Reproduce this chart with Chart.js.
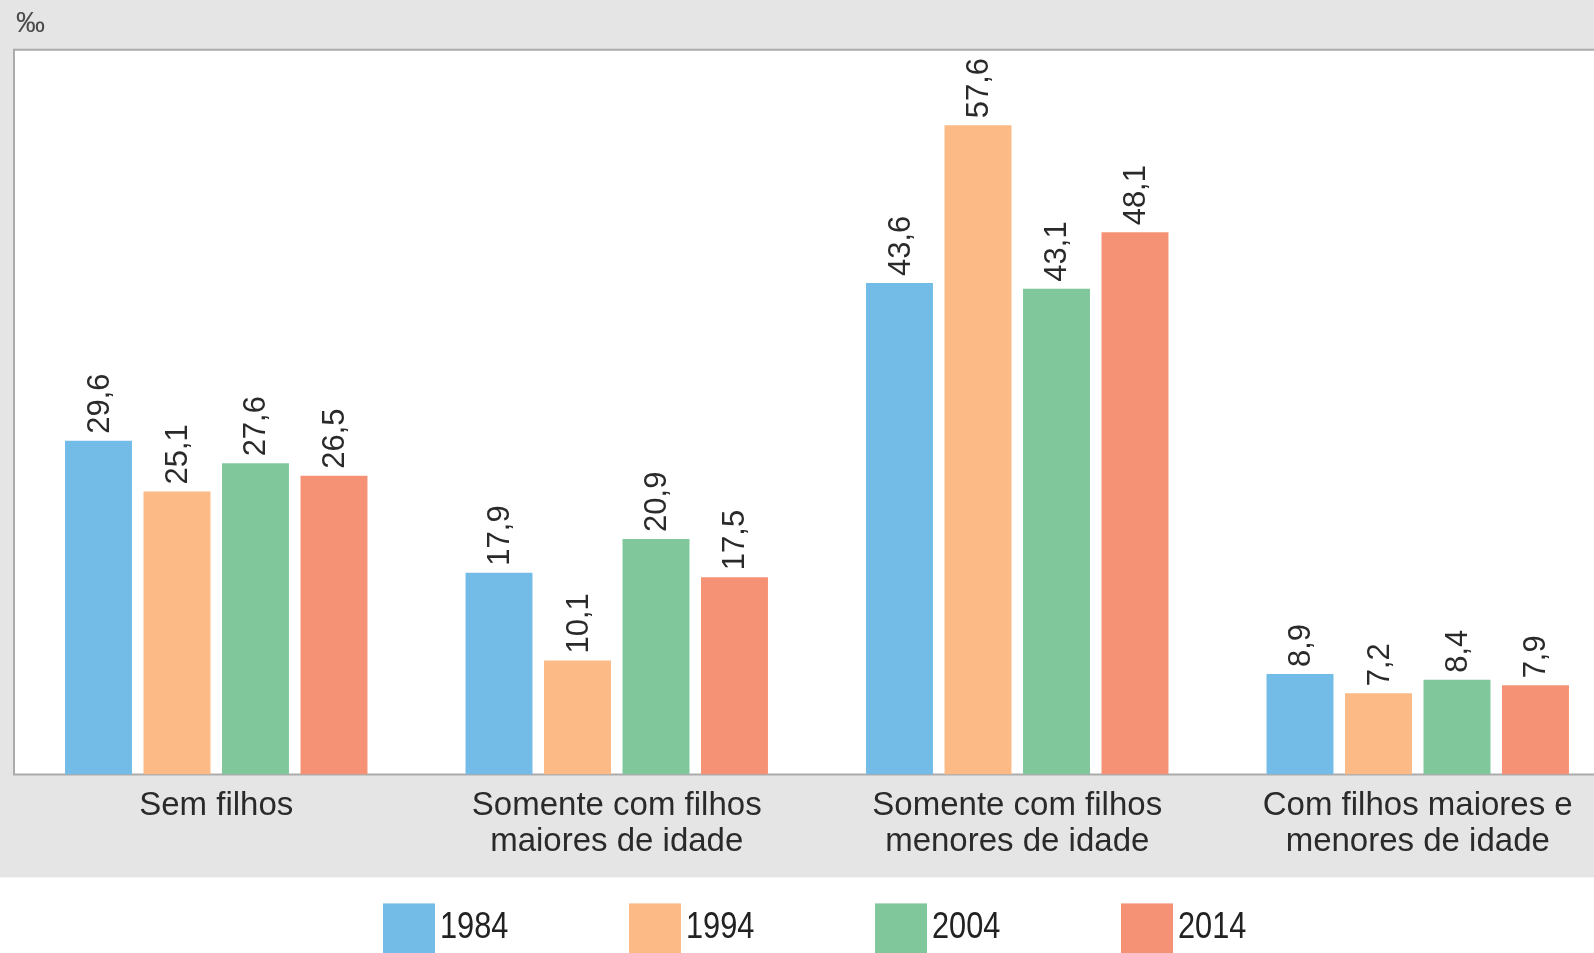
<!DOCTYPE html>
<html><head><meta charset="utf-8">
<script src="https://cdn.jsdelivr.net/npm/chart.js@4/dist/chart.umd.min.js"></script>
<style>html,body{margin:0;padding:0;overflow:hidden;background:#fff;width:1594px;height:953px}canvas{display:block}</style>
</head><body><canvas id="c" width="1625" height="953" style="width:1625px;height:953px"></canvas>
<script>
const categories = [["Sem filhos"],["Somente com filhos","maiores de idade"],["Somente com filhos","menores de idade"],["Com filhos maiores e","menores de idade"]];
const years = ["1984","1994","2004","2014"];
const values1984 = [29.6, 17.9, 43.6, 8.9];
const values1994 = [25.1, 10.1, 57.6, 7.2];
const values2004 = [27.6, 20.9, 43.1, 8.4];
const values2014 = [26.5, 17.5, 48.1, 7.9];
const colors = ["#74bce8", "#fbba86", "#81c79c", "#f59276"];
const unitLabel = "‰";

const GRAY = "#e5e5e5";

const bgPlugin = {
  id: 'bg',
  beforeDraw(chart) {
    const {ctx, chartArea: a, width, height} = chart;
    ctx.save();
    ctx.fillStyle = "#ffffff";
    ctx.fillRect(0, 0, width, height);
    ctx.fillStyle = GRAY;
    ctx.fillRect(0, 0, width, a.bottom + 103);
    ctx.fillStyle = "#ffffff";
    ctx.fillRect(a.left - 2, a.top, a.right - a.left + 2, a.bottom - a.top);
    ctx.restore();
  },
  beforeDatasetsDraw(chart) {
    const {ctx, chartArea: a} = chart;
    ctx.save();
    ctx.strokeStyle = "#ababab";
    ctx.lineWidth = 2;
    ctx.beginPath();
    ctx.moveTo(a.right + 20, a.top);
    ctx.lineTo(a.left - 2, a.top);
    ctx.lineTo(a.left - 2, a.bottom);
    ctx.lineTo(a.right + 20, a.bottom);
    ctx.stroke();
    ctx.restore();
  }
};

const valueLabels = {
  id: 'valueLabels',
  afterDatasetsDraw(chart) {
    const {ctx} = chart;
    ctx.save();
    ctx.font = "31px 'Liberation Sans', Arial, sans-serif";
    ctx.fillStyle = "#2a2a2a";
    ctx.textAlign = "left";
    ctx.textBaseline = "alphabetic";
    chart.data.datasets.forEach((ds, i) => {
      const meta = chart.getDatasetMeta(i);
      meta.data.forEach((bar, j) => {
        const txt = ds.data[j].toFixed(1).replace('.', ',');
        ctx.save();
        ctx.translate(bar.x + 10, bar.y - 7);
        ctx.rotate(-Math.PI / 2);
        ctx.fillText(txt, 0, 0);
        ctx.restore();
      });
    });
    ctx.restore();
  }
};

const legendPlugin = {
  id: 'customLegend',
  afterDraw(chart) {
    const {ctx} = chart;
    ctx.save();
    ctx.font = "37px 'Liberation Sans', Arial, sans-serif";
    ctx.textBaseline = "middle";
    ctx.textAlign = "left";
    const sx = 0.83;
    const boxW = 52, boxH = 56, gapText = 5, pitch = 246;
    const startX = 383;
    const top = chart.chartArea.bottom + 129;
    chart.data.datasets.forEach((ds, i) => {
      const x = startX + i * pitch;
      ctx.fillStyle = ds.backgroundColor;
      ctx.fillRect(x, top, boxW, boxH);
      ctx.fillStyle = "#222222";
      ctx.save();
      ctx.translate(x + boxW + gapText, top + 24);
      ctx.scale(sx, 1);
      ctx.fillText(ds.label, 0, 0);
      ctx.restore();
    });
    ctx.restore();
  }
};

const seriesValues = [values1984, values1994, values2004, values2014];

new Chart(document.getElementById('c'), {
  type: 'bar',
  data: {
    labels: categories,
    datasets: years.map((y, i) => ({
      label: y,
      data: seriesValues[i],
      backgroundColor: colors[i],
      borderWidth: 0,
      categoryPercentage: 0.784,
      barPercentage: 0.853
    }))
  },
  options: {
    responsive: false,
    animation: false,
    layout: { padding: { left: 16, right: 7, top: 0, bottom: 80 } },
    plugins: {
      legend: { display: false },
      tooltip: { enabled: false },
      title: {
        display: true,
        text: unitLabel,
        align: 'start',
        color: '#4a4a4a',
        font: { family: "'Liberation Sans', Arial, sans-serif", size: 29, weight: 'normal', lineHeight: 1.2 },
        padding: { top: 7, bottom: 8 }
      }
    },
    scales: {
      x: {
        grid: { display: false, drawTicks: false },
        border: { display: false },
        ticks: {
          color: '#2a2a2a',
          padding: 13,
          maxRotation: 0,
          autoSkip: false,
          font: { family: "'Liberation Sans', Arial, sans-serif", size: 33, lineHeight: 1.1 }
        }
      },
      y: {
        display: false,
        min: 0,
        max: 64.3
      }
    }
  },
  plugins: [bgPlugin, valueLabels, legendPlugin]
});
</script>
</body></html>
